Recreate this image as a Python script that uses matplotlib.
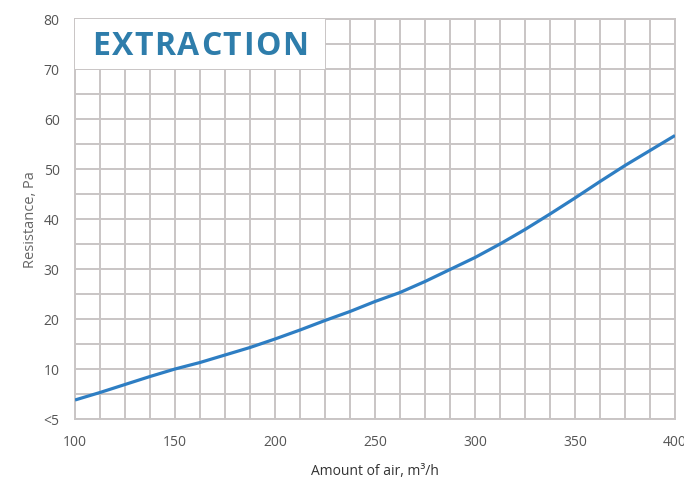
import matplotlib.pyplot as plt
from matplotlib.patches import Rectangle
from matplotlib.ticker import MultipleLocator

plt.rcParams['font.family'] = ['Open Sans', 'DejaVu Sans']

# air flow (m3/h) vs resistance (Pa)
air = [100, 112.5, 125, 137.5, 150, 162.5, 175, 187.5, 200, 212.5, 225, 237.5,
       250, 262.5, 275, 287.5, 300, 312.5, 325, 337.5, 350, 362.5, 375, 387.5, 400]
resistance = [3.8, 5.3, 6.9, 8.5, 10.0, 11.3, 12.8, 14.3, 16.0, 17.8, 19.7, 21.5,
              23.5, 25.3, 27.5, 29.9, 32.3, 35.0, 37.9, 41.0, 44.2, 47.5, 50.7, 53.7, 56.7]

x_ticks = [100, 150, 200, 250, 300, 350, 400]
y_ticks = [0, 10, 20, 30, 40, 50, 60, 70, 80]
y_tick_labels = ['<5', '10', '20', '30', '40', '50', '60', '70', '80']
title = 'EXTRACTION'

grid_color = '#c9c5c5'
W, H = 684, 481

fig = plt.figure(figsize=(W / 100, H / 100), dpi=100)
ax = fig.add_axes([75 / W, 61 / H, 600 / W, 400 / H])

ax.plot(air, resistance, color='#2e7ec3', linewidth=2.3, zorder=4, solid_capstyle='butt')

ax.set_xlim(100, 400)
ax.set_ylim(0, 80)
ax.set_xticks(x_ticks)
ax.set_yticks(y_ticks)
ax.set_yticklabels(y_tick_labels)
ax.xaxis.set_minor_locator(MultipleLocator(12.5))
ax.yaxis.set_minor_locator(MultipleLocator(5))
ax.tick_params(which='both', length=0)
ax.tick_params(axis='x', pad=11, labelsize=10, labelcolor='#555555')
ax.tick_params(axis='y', pad=11, labelsize=10, labelcolor='#555555')

ax.grid(True, which='both', color=grid_color, linewidth=1.4, zorder=1)
ax.set_axisbelow(True)
for s in ax.spines.values():
    s.set_color(grid_color)
    s.set_linewidth(1.4)

# white box over the top-left grid cells
ax.add_patch(Rectangle((100, 70), 125, 10, facecolor='white', edgecolor='none',
                       zorder=3, clip_on=False))

ax.set_xlabel('Amount of air, m³/h', fontsize=10, color='#333333', labelpad=10)
ax.set_ylabel('Resistance, Pa', fontsize=10.5, color='#666666', labelpad=4)

# title with wide letter spacing: lay the letters out one by one
renderer = fig.canvas.get_renderer()
letters = []
for ch in title:
    t = fig.text(0, 0, ch, fontsize=23, fontweight='bold', color='#2e7dab',
                 va='center', ha='left', zorder=5)
    letters.append((t, t.get_window_extent(renderer).width))
x0, x1 = 92, 308
gap = (x1 - x0 - sum(w for _, w in letters)) / (len(letters) - 1)
xpos = x0
for t, w in letters:
    t.set_position((xpos / W, (H - 47) / H))
    xpos += w + gap

fig.savefig('out.png', dpi=100)
